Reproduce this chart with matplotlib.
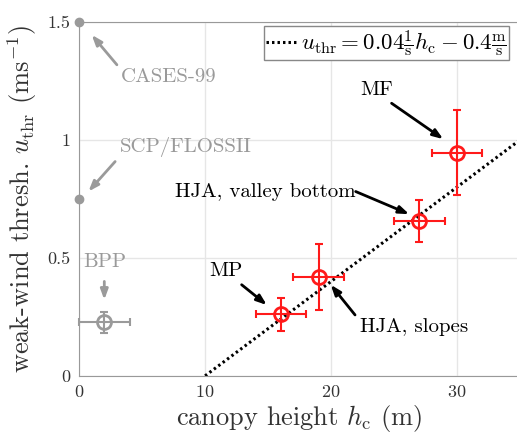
import numpy as np
import matplotlib
matplotlib.use("Agg")
import matplotlib.pyplot as plt

plt.rcParams["font.family"] = "serif"
plt.rcParams["font.serif"] = ["cmr10", "DejaVu Serif"]
plt.rcParams["mathtext.fontset"] = "cm"
plt.rcParams["axes.unicode_minus"] = False
plt.rcParams["axes.formatter.use_mathtext"] = True

# red sites
site_names = ["MP", "HJA, slopes", "HJA, valley bottom", "MF"]
site_h = [16, 19, 27, 30]
site_u = [0.26, 0.42, 0.655, 0.945]
site_herr = [2, 2, 2, 2]
site_uerr = [0.07, 0.14, 0.09, 0.18]

# gray reference sites
bpp_h, bpp_u, bpp_herr, bpp_uerr = 2, 0.226, 2, 0.045
ref_names = ["CASES-99", "SCP/FLOSSII"]
ref_h = [0, 0]
ref_u = [1.5, 0.75]

fit_slope, fit_icpt = 0.04, -0.4

# label text position, arrow tail, arrow head (data units)
labels = [
    ("CASES-99", (3.35, 1.268), (3.0, 1.318), (1.0, 1.445), "gray", "left"),
    ("SCP/FLOSSII", (3.25, 0.969), (2.86, 0.908), (0.74, 0.781), "gray", "left"),
    ("BPP", (2.05, 0.482), (2.0, 0.40), (2.0, 0.322), "gray", "center"),
    ("MP", (10.3, 0.446), (12.9, 0.386), (14.9, 0.30), "black", "left"),
    ("HJA, slopes", (22.3, 0.209), (21.9, 0.258), (19.97, 0.386), "black", "left"),
    ("HJA, valley bottom", (7.6, 0.781), (21.95, 0.781), (26.2, 0.685), "black", "left"),
    ("MF", (22.3, 1.212), (24.8, 1.155), (28.9, 1.003), "black", "left"),
]

gray = "#9a9a9a"
red = "#ff1a1a"

fig = plt.figure(figsize=(5.17, 4.37), dpi=100)
ax = fig.add_axes([0.153, 0.14, 0.853, 0.81])

hh = np.linspace(fit_icpt / -fit_slope, 35, 50)
ax.plot(hh, fit_slope * hh + fit_icpt, color="black", ls=(0, (0.8, 1.0)), lw=2.2,
        label=r"$u_\mathrm{thr} = 0.04\frac{1}{\mathrm{s}}h_\mathrm{c} - 0.4\frac{\mathrm{m}}{\mathrm{s}}$")

ax.errorbar(site_h, site_u, xerr=site_herr, yerr=site_uerr, fmt="none",
            ecolor=red, elinewidth=1.5, capsize=3, capthick=1.5, zorder=3)
ax.plot(site_h, site_u, "o", mfc="none", mec=red, ms=10, mew=2, zorder=4)

ax.errorbar([bpp_h], [bpp_u], xerr=[bpp_herr], yerr=[bpp_uerr], fmt="none",
            ecolor=gray, elinewidth=1.5, capsize=3, capthick=1.5, zorder=3, clip_on=False)
ax.plot([bpp_h], [bpp_u], "o", mfc="none", mec=gray, ms=10, mew=2, zorder=4)
ax.plot(ref_h, ref_u, "o", color=gray, ms=6, clip_on=False, zorder=5)

akw = dict(arrowstyle="-|>,head_length=0.6,head_width=0.22", lw=2, shrinkA=0, shrinkB=0)
for name, tpos, tail, head, col, ha in labels:
    c = gray if col == "gray" else "black"
    ax.text(tpos[0], tpos[1], name, color=c, fontsize=15, ha=ha, va="center")
    ax.annotate("", xy=head, xytext=tail, arrowprops=dict(color=c, **akw))

ax.set_xlim(0, 35)
ax.set_ylim(0, 1.5)
ax.set_xticks([0, 10, 20, 30])
ax.set_yticks([0, 0.5, 1, 1.5])
ax.set_yticklabels(["0", "0.5", "1", "1.5"])
ax.tick_params(labelsize=13, length=0, colors="#333333", pad=6)
ax.grid(True, color="#e6e6e6", lw=1)
ax.set_axisbelow(True)
for s in ["left", "bottom", "top"]:
    ax.spines[s].set_color("#999999")
ax.spines["right"].set_visible(False)

ax.set_xlabel(r"canopy height $h_\mathrm{c}$ (m)", fontsize=19, color="#333333", labelpad=2)
ax.set_ylabel(r"weak-wind thresh. $u_\mathrm{thr}$ (ms$^{-1}$)", fontsize=19,
              color="#333333", labelpad=6)

leg = ax.legend(loc="upper right", bbox_to_anchor=(0.974, 0.988), fontsize=16.5,
                handlelength=1.3, handletextpad=0.2, borderpad=0.1, borderaxespad=0,
                fancybox=False, framealpha=1)
leg.get_frame().set_edgecolor("#888888")
leg.get_frame().set_linewidth(1)

fig.savefig("out.png", dpi=100)
